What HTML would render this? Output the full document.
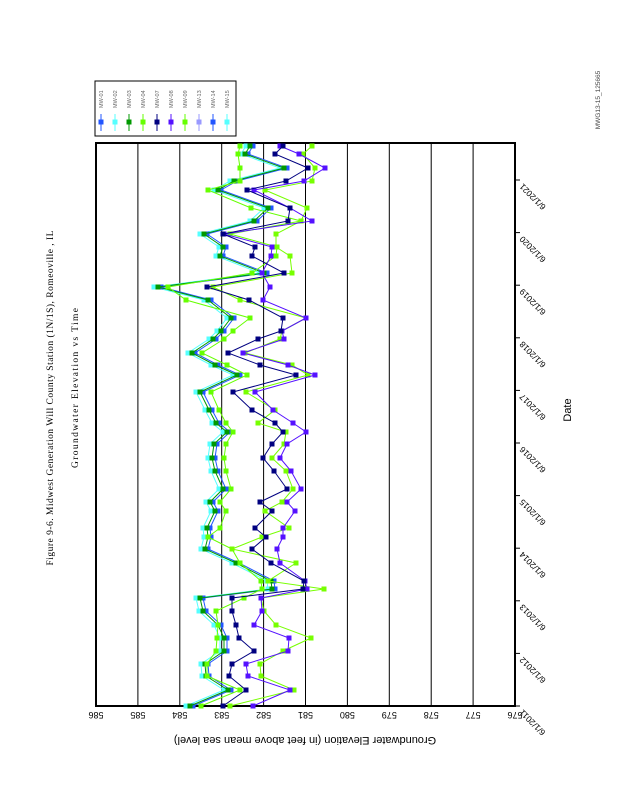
<!DOCTYPE html>
<html><head><meta charset="utf-8"><style>body{margin:0;background:#fff}svg{display:block}</style></head>
<body>
<svg id="s" width="618" height="800" xmlns="http://www.w3.org/2000/svg" font-family="Liberation Sans, sans-serif">
<rect width="618" height="800" fill="#fff"/>
<text x="0" y="0" transform="translate(53,398) rotate(-90)" text-anchor="middle" font-family="Liberation Serif, serif" font-size="9.5" textLength="335" lengthAdjust="spacing">Figure 9-6.  Midwest Generation  Will County  Station  (1N/1S),  Romeoville , IL</text>
<text x="0" y="0" transform="translate(78,388) rotate(-90)" text-anchor="middle" font-family="Liberation Serif, serif" font-size="9.5" textLength="160" lengthAdjust="spacing">Groundwater Elevation vs  Time</text>
<text x="0" y="0" transform="translate(600,100) rotate(-90)" text-anchor="middle" font-size="6.5" fill="#444">MWG13-15_125665</text>
<text x="0" y="0" transform="translate(571,410) rotate(-90)" text-anchor="middle" font-size="11">Date</text>
<text x="0" y="0" transform="translate(305,737) rotate(180)" text-anchor="middle" font-size="11">Groundwater Elevation (in feet above mean sea level)</text>
<g id="g"></g>
<rect x="95" y="81" width="141" height="55" fill="none" stroke="#000" stroke-width="1"/>
</svg>
<script>
var g=document.getElementById('g'),h='';
var L=96,R=515,T=143,B=706;
for(var i=0;i<=10;i++){var x=L+i*41.9;h+='<line x1="'+x+'" y1="'+T+'" x2="'+x+'" y2="'+B+'" stroke="#000" stroke-width="1"/>';
h+='<text transform="translate('+x+',712) rotate(180)" text-anchor="middle" font-size="9">'+(586-i)+'</text>';}
h+='<rect x="'+L+'" y="'+T+'" width="'+(R-L)+'" height="'+(B-T)+'" fill="none" stroke="#000" stroke-width="2"/>';
for(var k=0;k<=10;k++){var y=B-k*52.6;h+='<line x1="'+R+'" y1="'+y+'" x2="'+(R+5)+'" y2="'+y+'" stroke="#000"/>';
h+='<text transform="translate('+(R+8)+','+(y+3)+') rotate(225)" text-anchor="end" font-size="8.5">6/1/20'+(11+k)+'</text>';}
var D=[[706,190,201,223,253,230],[690,228,240,246,290,294],[676,206,207,229,248,261],[664,205,207,232,246,260],[651,224,216,254,288,283],[638,224,217,239,289,311],[625,218,218,236,254,276],[611,203,216,232,262,264],[598,200,244,232,261,261],[589,272,262,303,307,324],[581,271,261,304,305,268],[563,236,240,271,280,296],[549,205,232,252,277,232],[537,208,208,266,283,262],[528,207,220,255,283,289],[511,215,226,272,295,265],[502,210,220,260,287,282],[489,223,231,287,301,293],[471,215,226,274,291,286],[458,212,224,263,280,272],[444,214,226,272,287,284],[432,227,233,283,306,286],[423,216,226,275,293,258],[410,209,219,252,273,275],[392,200,211,233,255,246],[375,237,247,296,315,308],[365,215,227,260,288,292],[353,192,202,228,243,245],[339,213,224,258,284,280],[331,221,233,281,282,282],[318,231,250,283,306,306],[300,208,186,249,263,240],[287,158,168,207,270,213],[273,264,252,284,262,292],[256,220,276,252,271,290],[247,223,277,255,272,276],[234,204,230,223,224,276],[221,254,301,288,312,301],[208,268,251,290,290,307],[190,218,208,247,254,265],[181,234,240,286,304,312],[168,284,240,308,325,315],[154,245,238,275,299,303],[146,250,240,283,280,312]];
function ser(f,c){var p=D.map(function(d){return f(d)+','+d[0]}).join(' ');h+='<polyline points="'+p+'" fill="none" stroke="'+c+'" stroke-width="1"/>';
D.forEach(function(d){h+='<rect x="'+(f(d)-2.5)+'" y="'+(d[0]-2.5)+'" width="5" height="5" fill="'+c+'"/>';});}
ser(function(d){return d[1]-4},'#55ffff');
ser(function(d){return d[1]+3},'#2255ff');
ser(function(d){return d[1]},'#009900');
ser(function(d){return d[2]},'#66ff00');
ser(function(d){return d[5]},'#77ff00');
ser(function(d){return d[4]},'#5511ff');
ser(function(d){return d[3]},'#000080');
var lc=['#2255ff','#55ffff','#009900','#66ff00','#000080','#5511ff','#66ff00','#9999ff','#2255ff','#55ffff'];
var ln=['MW-01','MW-02','MW-03','MW-04','MW-07','MW-08','MW-09','MW-13','MW-14','MW-15'];
for(var j=0;j<10;j++){var x=101+j*14;h+='<text transform="translate('+(x+2)+',108) rotate(-90)" font-size="5.5" fill="#666">'+ln[j]+'</text>';
h+='<line x1="'+x+'" y1="114" x2="'+x+'" y2="131" stroke="'+lc[j]+'"/><rect x="'+(x-2.5)+'" y="119.5" width="5" height="5" fill="'+lc[j]+'"/>';}
g.innerHTML=h;
</script>
</body></html>
